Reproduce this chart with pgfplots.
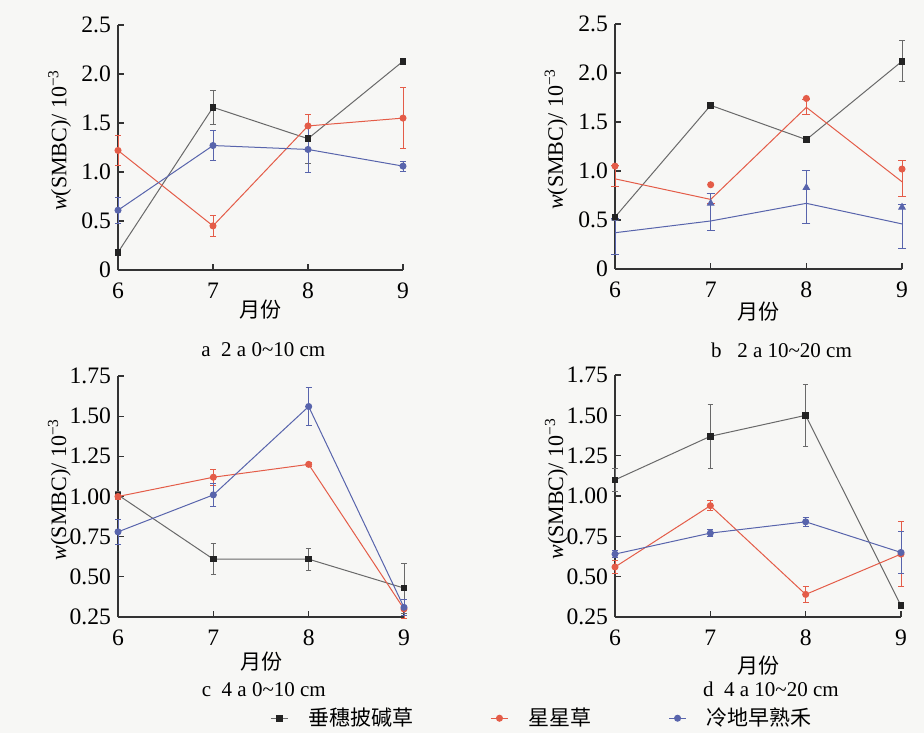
\documentclass[border=0pt]{standalone}
\usepackage{pgfplots}
\pgfplotsset{compat=1.18}
\usepackage{fontspec}
\setmainfont{Liberation Serif}
\newfontfamily\cjk{Noto Sans CJK SC}
\definecolor{cBlack}{RGB}{35,35,35}
\definecolor{cLine}{RGB}{105,105,105}
\definecolor{cRed}{RGB}{228,92,72}
\definecolor{cBlue}{RGB}{88,100,172}
\definecolor{bg}{RGB}{247,247,245}
\pgfplotsset{
  panel/.style={
    scale only axis,
    axis x line=bottom, axis y line=left,
    axis line style={-, line width=0.6pt, black!80},
    tick align=inside, major tick length=3pt,
    tick style={black!80, line width=0.6pt},
    xmin=6, xmax=9, xtick={6,7,8,9}, clip=false,
    tick label style={font=\fontsize{11.8}{14}\selectfont},
    yticklabel style={xshift=0pt},
    xticklabel style={yshift=-3pt},
    /pgf/number format/assume math mode=true,
    xlabel={\cjk\fontsize{10.5}{12}\selectfont 月份},
    ylabel={\fontsize{11}{12}\selectfont\textit{w}(SMBC)/ 10\textsuperscript{−3}},
    ylabel style={at={(axis description cs:-0.205,0.53)}, anchor=center},
    every axis plot/.append style={line width=0.5pt},
    legend image code/.code={\draw[mark repeat=2,mark phase=2,##1] plot coordinates {(0cm,0cm)(0.15cm,0cm)(0.3cm,0cm)};},
  },
  ab/.style={ymin=0, ymax=2.5, ytick={0,0.5,1,1.5,2,2.5}, yticklabels={0,0.5,1.0,1.5,2.0,2.5}},
  cd/.style={ymin=0.25, ymax=1.75, ytick={0.25,0.5,0.75,1,1.25,1.5,1.75}, yticklabels={0.25,0.50,0.75,1.00,1.25,1.50,1.75}},
  blackS/.style={color=cLine, mark=square*, mark size=1.4pt, mark options={fill=cBlack, draw=cBlack}},
  redS/.style={color=cRed, mark=*, mark size=1.5pt, mark options={fill=cRed, draw=cRed}},
  blueS/.style={color=cBlue, mark=*, mark size=1.5pt, mark options={fill=cBlue, draw=cBlue}},
  eb/.style={error bars/y dir=both, error bars/y explicit},
}
\begin{document}
\begin{tikzpicture}
\path[use as bounding box, fill=bg] (0pt,0pt) rectangle (462pt,366.5pt);

% panel a
\begin{axis}[panel, ab, at={(59pt,231.5pt)}, anchor=south west, width=142.5pt, height=122.5pt,
  xlabel style={at={(axis description cs:0.5,-0.163)}, anchor=center}]
\addplot[blackS, eb] coordinates {(6,0.18) +- (0,0.03) (7,1.66) +- (0,0.17) (8,1.34) +- (0,0.25) (9,2.13) +- (0,0.03)};
\addplot[redS, eb] coordinates {(6,1.22) +- (0,0.15) (7,0.45) +- (0,0.11) (8,1.47) +- (0,0.12) (9,1.55) +- (0,0.31)};
\addplot[blueS, eb] coordinates {(6,0.61) +- (0,0.13) (7,1.27) +- (0,0.15) (8,1.23) +- (0,0.23) (9,1.06) +- (0,0.05)};
\node[font=\fontsize{10.5}{12}\selectfont] at (axis description cs:0.51,-0.327) {a\ \ 2 a 0\textasciitilde10 cm};
\end{axis}

% panel b
\begin{axis}[panel, ab, at={(307.5pt,232pt)}, anchor=south west, width=143.5pt, height=122.5pt,
  xlabel style={at={(axis description cs:0.5,-0.175)}, anchor=center}]
\addplot[blackS, eb] coordinates {(6,0.53) +- (0,0.03) (7,1.67) +- (0,0.02) (8,1.32) +- (0,0.03) (9,2.12) +- (0,0.21)};
\addplot[color=cRed, no markers, eb] coordinates {(6,0.92) += (0,0.14) -= (0,0.08) (7,0.71) += (0,0.06) -= (0,0.04) (8,1.65) += (0,0.08) -= (0,0.07) (9,0.89) += (0,0.22) -= (0,0.15)};
\addplot[redS, only marks] coordinates {(6,1.05) (7,0.86) (8,1.74) (9,1.02)};
\addplot[color=cBlue, no markers, eb] coordinates {(6,0.37) += (0,0.15) -= (0,0.22) (7,0.49) += (0,0.28) -= (0,0.10) (8,0.67) += (0,0.34) -= (0,0.20) (9,0.46) += (0,0.20) -= (0,0.25)};
\addplot[color=cBlue, only marks, mark=triangle*, mark size=1.8pt, mark options={fill=cBlue}] coordinates {(6,0.52) (7,0.67) (8,0.83) (9,0.63)};
\addplot[blackS, only marks] coordinates {(6,0.53)};
\node[font=\fontsize{10.5}{12}\selectfont] at (axis description cs:0.58,-0.33) {b\ \ \ 2 a 10\textasciitilde20 cm};
\end{axis}

% panel c
\begin{axis}[panel, cd, at={(59pt,58pt)}, anchor=south west, width=143pt, height=120.5pt,
  xlabel style={at={(axis description cs:0.5,-0.187)}, anchor=center},
  legend style={at={(axis description cs:1.486,-0.42)}, anchor=center, draw=none, fill=none,
    legend columns=3, font=\cjk\fontsize{10.5}{12}\selectfont,
    /tikz/every even column/.append style={column sep=36.5pt},
    /tikz/every odd column/.append style={column sep=8pt}},
  legend cell align=left]
\addlegendimage{blackS}
\addlegendentry{垂穗披碱草}
\addlegendimage{redS}
\addlegendentry{星星草}
\addlegendimage{blueS}
\addlegendentry{冷地早熟禾}
\addplot[forget plot, blackS, eb] coordinates {(6,1.01) +- (0,0.02) (7,0.61) +- (0,0.095) (8,0.61) +- (0,0.07) (9,0.43) +- (0,0.155)};
\addplot[forget plot, redS, eb] coordinates {(6,1.00) +- (0,0.02) (7,1.12) +- (0,0.05) (8,1.20) +- (0,0.01) (9,0.30) +- (0,0.06)};
\addplot[forget plot, blueS, eb] coordinates {(6,0.78) +- (0,0.08) (7,1.01) +- (0,0.07) (8,1.56) +- (0,0.12) (9,0.31) +- (0,0.05)};
\node[font=\fontsize{10.5}{12}\selectfont] at (axis description cs:0.51,-0.30) {c\ \ 4 a 0\textasciitilde10 cm};
\end{axis}

% panel d
\begin{axis}[panel, cd, at={(307.5pt,58pt)}, anchor=south west, width=143pt, height=121pt,
  xlabel style={at={(axis description cs:0.5,-0.2)}, anchor=center}]
\addplot[blackS, eb] coordinates {(6,1.10) +- (0,0.07) (7,1.37) +- (0,0.20) (8,1.50) +- (0,0.19) (9,0.32) +- (0,0.01)};
\addplot[redS, eb] coordinates {(6,0.56) +- (0,0.04) (7,0.94) +- (0,0.03) (8,0.39) +- (0,0.05) (9,0.64) +- (0,0.20)};
\addplot[blueS, eb] coordinates {(6,0.64) +- (0,0.02) (7,0.77) +- (0,0.02) (8,0.84) +- (0,0.03) (9,0.65) +- (0,0.13)};
\node[font=\fontsize{10.5}{12}\selectfont] at (axis description cs:0.545,-0.30) {d\ \ 4 a 10\textasciitilde20 cm};
\end{axis}
\end{tikzpicture}
\end{document}
